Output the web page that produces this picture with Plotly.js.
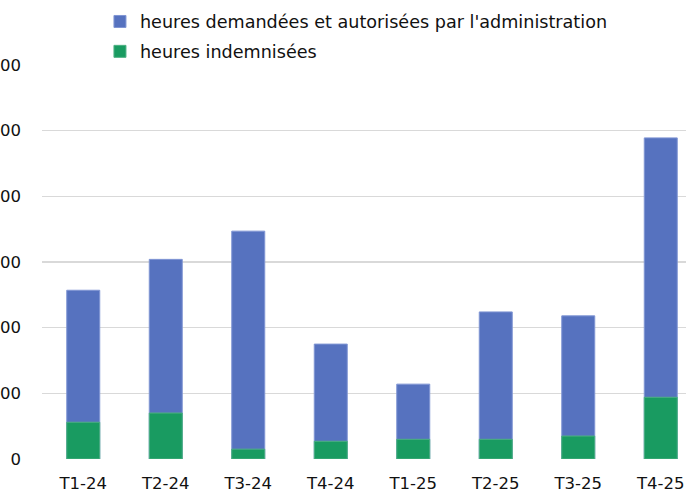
<!DOCTYPE html>
<html><head><meta charset="utf-8">
<script src="https://cdn.plot.ly/plotly-3.0.1.min.js"></script>
<style>html,body{margin:0;padding:0;background:#fff;}#chart{width:686px;height:493px;}</style>
</head><body><div id="chart"></div>
<script>
const categories = ["T1-24","T2-24","T3-24","T4-24","T1-25","T2-25","T3-25","T4-25"];
const heuresAutorisees = [257, 304, 347, 175, 114, 224, 218, 489];
const heuresIndemnisees = [56, 70, 15, 27, 30, 30, 35, 94];
const tickVals = [0, 100, 200, 300, 400, 500, 600];

const font = "'DejaVu Sans', 'Noto Sans', sans-serif";
const traces = [
  {type:'bar', x:categories, y:heuresAutorisees, name:"heures demandées et autorisées par l'administration",
   marker:{color:'#5672BF', line:{color:'#8096d4', width:1}}, width:0.4, legendgroup:'a'},
  {type:'bar', x:categories, y:heuresIndemnisees, name:"heures indemnisées",
   marker:{color:'#199B61', line:{color:'#4fb184', width:1}}, width:0.4, legendgroup:'b'}
];
const layout = {
  width:686, height:493,
  margin:{l:42, r:0, t:65, b:34, pad:0},
  barmode:'overlay',
  paper_bgcolor:'#fff', plot_bgcolor:'#fff',
  font:{family:font, size:16.5, color:'#111'},
  showlegend:true,
  legend:{x:0.09, y:1.156, xanchor:'left', yanchor:'top', orientation:'v', traceorder:'grouped', tracegroupgap:4,
          font:{family:font, size:17.6, color:'#111'}, bgcolor:'rgba(0,0,0,0)'},
  xaxis:{type:'category', range:[-0.5, 7.306], autorange:false, showgrid:false, showline:false, zeroline:false,
         ticks:'', tickfont:{size:16.5}, ticklabelstandoff:12, automargin:false, fixedrange:true},
  yaxis:{range:[0,600], autorange:false, tickvals:tickVals, showgrid:true, gridcolor:'#d9d9d9', gridwidth:1.5,
         zeroline:false, showline:false, ticks:'', ticklabelstandoff:20, tickfont:{size:16.5}, automargin:false, fixedrange:true}
};
Plotly.newPlot('chart', traces, layout, {displayModeBar:false, staticPlot:true});
</script></body></html>
